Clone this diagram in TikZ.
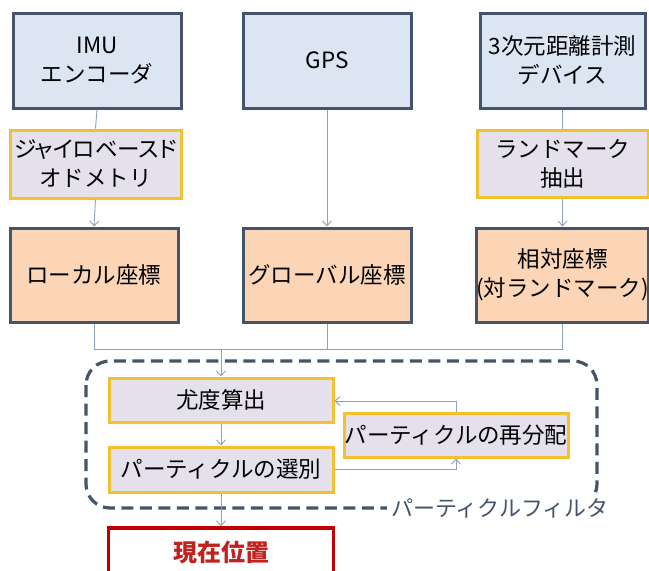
\documentclass[tikz,border=0pt]{standalone}
\usepackage{fontspec}
\setmainfont{Noto Sans CJK JP}
\usetikzlibrary{arrows.meta}
\definecolor{topfill}{HTML}{DCE6F2}
\definecolor{slate}{HTML}{44546A}
\definecolor{gold}{HTML}{F3C030}
\definecolor{lav}{HTML}{E5E1EC}
\definecolor{peach}{HTML}{FBD5B5}
\definecolor{conn}{HTML}{8AA3C0}
\definecolor{dred}{HTML}{C00000}
\definecolor{tred}{HTML}{C0221F}
\newcommand{\propkana}{\addfontfeature{RawFeature=+palt}}
\tikzset{
  x=1pt, y=-1pt,
  box/.style={rectangle, line width=3pt, align=center, inner sep=0pt,
    font=\fontsize{22.5}{29}\selectfont, text=black},
  srcbox/.style={box, draw=slate, fill=topfill, minimum height=95pt},
  procbox/.style={box, draw=gold, fill=lav},
  coordbox/.style={box, draw=slate, fill=peach, minimum height=94pt},
  conn/.style={draw=conn, line width=0.9pt},
  arr/.style={conn, -{Straight Barb[length=5pt,width=9pt,line width=0.9pt]}},
}
\begin{document}
\begin{tikzpicture}
\useasboundingbox (0,0) rectangle (649,571);
\clip (0,0) rectangle (649,571);
\fill[white] (0,0) rectangle (649,571);

% top row
\node[srcbox, minimum width=168pt] (imu) at (97,60.5) {IMU\\エンコーダ};
\node[srcbox, minimum width=168pt] (gps) at (327,60.5) {GPS};
\node[srcbox, minimum width=165pt] (dev) at (562.5,60.5) {3次元距離計測\\デバイス};

% processing row
\node[procbox, minimum width=171pt, minimum height=68pt] (gyro) at (95.5,164) {{\propkana ジャイロベースド}\\オドメトリ};
\node[procbox, minimum width=171pt, minimum height=67pt] (land) at (562.5,163.5) {ランドマーク\\抽出};

% coordinate row
\node[coordbox, minimum width=168pt] (loc) at (94,275) {ローカル座標};
\node[coordbox, minimum width=168pt] (glob) at (327,275) {グローバル座標};
\node[coordbox, minimum width=165pt] (rel) at (562.5,275) {相対座標\\(対ランドマーク)};

% particle filter group
\draw[slate, line width=3.2pt, dash pattern=on 12pt off 6.5pt, rounded corners=24pt]
  (86,361) rectangle (597,508);

\node[procbox, minimum width=224pt, minimum height=44pt] (lik) at (221,400) {尤度算出};
\node[procbox, minimum width=224pt, minimum height=45pt] (sel) at (221,469.5) {パーティクルの選別};
\node[procbox, minimum width=224pt, minimum height=44pt] (redis) at (456,435) {パーティクルの再分配};

\node[fill=white, inner xsep=4pt, inner ysep=3pt, text=slate,
  font=\fontsize{22}{26}\selectfont] (pf) at (500,508) {パーティクルフィルタ};

% result
\node[box, draw=dred, fill=white, line width=3.2pt, minimum width=225pt, minimum height=48pt,
  text=tred, font=\fontsize{24}{28}\selectfont\bfseries] (cur) at (221,552) {現在位置};

% connectors
\coordinate (j) at (221,349);
\draw[conn] (imu.south) -- (gyro.north);
\draw[arr] (gyro.south) -- (loc.north);
\draw[arr] (gps.south) -- (glob.north);
\draw[conn] (dev.south) -- (land.north);
\draw[arr] (land.south) -- (rel.north);

\draw[conn] (loc.south) |- (rel.south |- j) -- (rel.south);
\draw[conn] (glob.south) -- (glob.south |- j);
\draw[arr] (j) -- (lik.north);

\draw[arr] (lik.south) -- (sel.north);
\draw[arr] (sel.east) -| (redis.south);
\draw[arr] (redis.north) |- ([yshift=-1pt]lik.east);
\draw[arr] (sel.south) -- (cur.north);
\end{tikzpicture}
\end{document}
